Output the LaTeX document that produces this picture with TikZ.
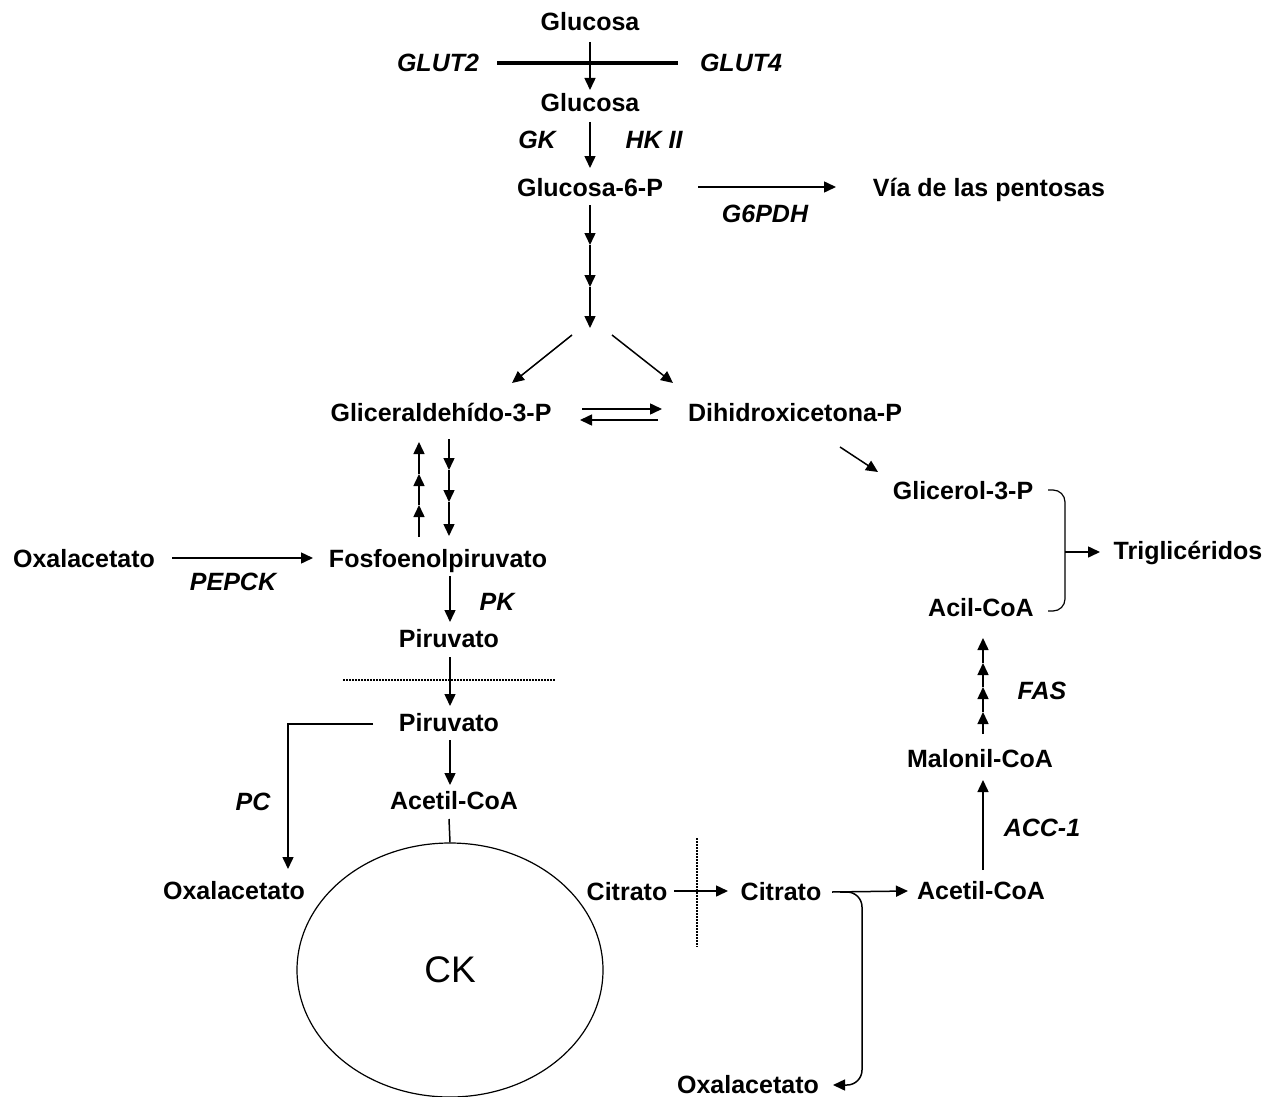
\documentclass[tikz,border=0pt]{standalone}
\usepackage{fontspec}
\setmainfont{Liberation Sans}
\usetikzlibrary{arrows.meta,calc,shapes.geometric}
\begin{document}
\begin{tikzpicture}[x=1pt,y=-1pt,
  lbl/.style={font=\fontsize{25}{30}\selectfont\bfseries, inner sep=0pt, text height=18pt, text depth=0pt},
  enz/.style={font=\fontsize{25}{30}\selectfont\bfseries\itshape, inner sep=0pt, text height=18pt, text depth=0pt},
  arr/.style={line width=1.5pt, -{Triangle[length=12pt,width=11pt]}},
  ln/.style={line width=1.5pt},
  dotln/.style={line width=1.8pt, dash pattern=on 1.6pt off 1.4pt}]
\useasboundingbox (0,0) rectangle (1274,1097);
% nodes
\node[lbl] (glu1) at (590,22) {Glucosa};
\node[enz] (glut2) at (438,63) {GLUT2};
\node[enz] (glut4) at (741,63) {GLUT4};
\node[lbl] (glu2) at (590,103) {Glucosa};
\node[enz] (gk) at (537,140) {GK};
\node[enz] (hk) at (654,140) {HK II};
\node[lbl] (g6p) at (590,187) {Glucosa-6-P};
\node[lbl] (pent) at (989,187) {Vía de las pentosas};
\node[enz] (g6pdh) at (765,213) {G6PDH};
\node[lbl] (gap) at (441,412) {Gliceraldehído-3-P};
\node[lbl] (dhap) at (795,412) {Dihidroxicetona-P};
\node[lbl] (g3p) at (963,490) {Glicerol-3-P};
\node[lbl] (tg) at (1188,550) {Triglicéridos};
\node[lbl] (acil) at (981,607) {Acil-CoA};
\node[enz] (fas) at (1042,690) {FAS};
\node[lbl] (malo) at (980,758) {Malonil-CoA};
\node[enz] (acc) at (1042,827) {ACC-1};
\node[lbl] (oaa1) at (84,558) {Oxalacetato};
\node[enz] (pepck) at (233,581) {PEPCK};
\node[lbl] (pep) at (438,558) {Fosfoenolpiruvato};
\node[enz] (pk) at (497,601) {PK};
\node[lbl] (pyr1) at (449,638) {Piruvato};
\node[lbl] (pyr2) at (449,722) {Piruvato};
\node[enz] (pc) at (253,801) {PC};
\node[lbl] (acoa1) at (454,800) {Acetil-CoA};
\node[lbl] (oaa2) at (234,890) {Oxalacetato};
\node[draw, ellipse, line width=1.2pt, inner sep=0pt, minimum width=306pt, minimum height=254pt,
      font=\fontsize{37}{40}\selectfont] (ck) at (450,970) {CK};
\node[lbl] (cit1) at (627,891) {Citrato};
\node[lbl] (cit2) at (781,891) {Citrato};
\node[lbl] (acoa2) at (981,890) {Acetil-CoA};
\node[lbl] (oaa3) at (748,1084) {Oxalacetato};
% coordinates
\coordinate (s1) at (590,245);
\coordinate (s2) at (590,287);
\coordinate (s3) at (590,328);
\coordinate (dl0) at (572,335);
\coordinate (dl1) at (512,383);
\coordinate (dr0) at (612,335);
\coordinate (dr1) at (673,383);
\coordinate (u0) at (419,537);
\coordinate (u1) at (419,505);
\coordinate (u2) at (419,474);
\coordinate (u3) at (419,442);
\coordinate (d0) at (449,439);
\coordinate (d1) at (449,470);
\coordinate (d2) at (449,502);
\coordinate (d3) at (449,536);
\coordinate (f0) at (983,734);
\coordinate (f1) at (983,712);
\coordinate (f2) at (983,687);
\coordinate (f3) at (983,663);
\coordinate (f4) at (983,638);
% membrane
\draw[line width=3.5pt] ($(glut2)+(59,0)$) -- ($(glut4)+(-63,0)$);
% connectors
\draw[arr] ($(glu1)+(0,20)$) -- ($(glu2)+(0,-13)$);
\draw[arr] ($(glu2)+(0,19)$) -- ($(g6p)+(0,-19)$);
\draw[arr] ($(g6p)+(108,0)$) -- ($(pent)+(-153,0)$);
\draw[arr] ($(g6p)+(0,18)$) -- (s1);
\draw[arr] (s1) -- (s2);
\draw[arr] (s2) -- (s3);
\draw[arr] (dl0) -- (dl1);
\draw[arr] (dr0) -- (dr1);
\draw[arr] ($(gap)+(141,-3)$) -- ($(dhap)+(-133,-3)$);
\draw[arr] ($(dhap)+(-137,8)$) -- ($(gap)+(139,8)$);
\draw[arr] (u0) -- (u1);
\draw[arr] (u1) -- (u2);
\draw[arr] (u2) -- (u3);
\draw[arr] (d0) -- (d1);
\draw[arr] (d1) -- (d2);
\draw[arr] (d2) -- (d3);
\draw[arr] ($(oaa1)+(88,0)$) -- ($(pep)+(-125,0)$);
\draw[arr] ($(pep)+(12,18)$) -- ($(pyr1)+(1,-16)$);
\draw[dotln] ($(pyr1)+(-106,42)$) -- ($(pyr1)+(106,42)$);
\draw[arr] ($(pyr1)+(1,19)$) -- ($(pyr2)+(1,-16)$);
\draw[arr] ($(pyr2)+(1,18)$) -- ($(acoa1)+(-4,-15)$);
\draw[arr] ($(pyr2)+(-76,2)$) -| ($(oaa2)+(54,-21)$);
\draw[ln] ($(acoa1)+(-5,19)$) -- (ck.north);
\draw[arr] ($(cit1)+(47,0)$) -- ($(cit2)+(-53,0)$);
\draw[dotln] ($(cit1)+(70,-53)$) -- ($(cit1)+(70,56)$);
\draw[arr] ($(cit2)+(51,1)$) -- ($(acoa2)+(-73,1)$);
\draw[arr, rounded corners=15pt] ($(cit2)+(59,1)$) -- ($(cit2)+(81,1)$) -- ($(oaa3)+(114,1)$) -- ($(oaa3)+(85,1)$);
\draw[arr] ($(acoa2)+(2,-20)$) -- ($(malo)+(3,22)$);
\draw[arr] (f0) -- (f1);
\draw[arr] (f1) -- (f2);
\draw[arr] (f2) -- (f3);
\draw[arr] (f3) -- (f4);
\draw[arr] ($(dhap)+(45,35)$) -- ($(g3p)+(-85,-18)$);
\draw[line width=1.2pt, rounded corners=12pt] ($(g3p)+(85,0)$) -- ($(g3p)+(102,0)$) -- ($(acil)+(84,4)$) -- ($(acil)+(67,4)$);
\draw[arr] ($(acil)+(84,-55)$) -- ($(tg)+(-88,2)$);
\end{tikzpicture}
\end{document}
